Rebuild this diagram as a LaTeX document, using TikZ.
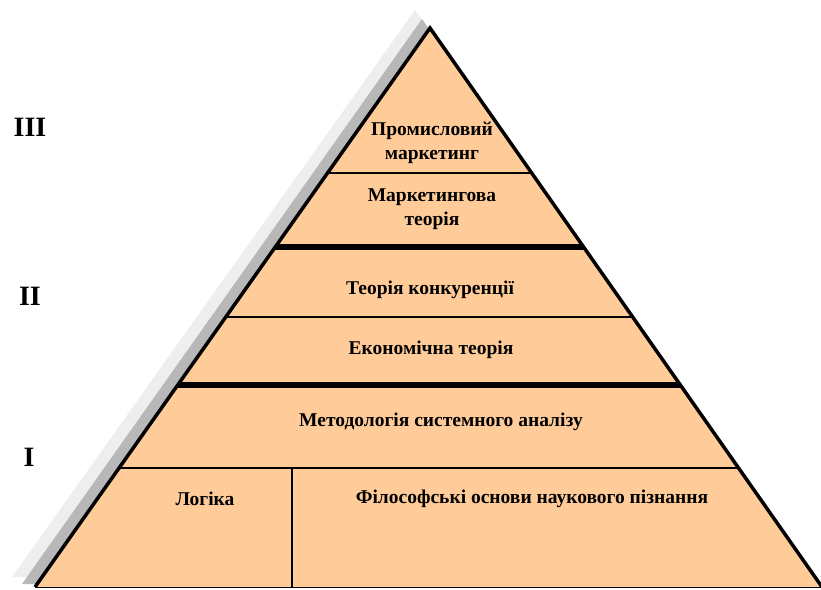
\documentclass[tikz,border=0pt]{standalone}
\usepackage{fontspec}
\setmainfont{Liberation Serif}
\usepackage{tikz}
\usetikzlibrary{calc}

\definecolor{pyrfill}{HTML}{FFCC99}
\definecolor{shadelight}{HTML}{EEEEEE}
\definecolor{shadedark}{HTML}{B8B8B8}
\definecolor{baseline}{HTML}{A8865E}

\begin{document}
\begin{tikzpicture}[x=1pt,y=-1pt,
	layer/.style={font=\bfseries\fontsize{19.5}{24}\selectfont, align=center, inner sep=0pt},
	rank/.style={font=\bfseries\fontsize{28}{30}\selectfont, inner sep=0pt}]
	\useasboundingbox (0,0) rectangle (821,589);
	\coordinate (top) at (430,28);
	\coordinate (bl) at (35,587);
	\coordinate (br) at (822,587);
	% shadow
	\fill[shadelight] (415,10) -- (12,577) -- (200,577) -- (454,66) -- cycle;
	\fill[shadedark] (422,19) -- (22,584) -- (200,584) -- (458,70) -- cycle;
	% body of the pyramid
	\fill[pyrfill] (top) -- (bl) -- (br) -- cycle;
	% borders between the layers
	\foreach \t/\w in {0.2594/1.5pt, 0.3918/6pt, 0.5170/1.5pt, 0.6386/6pt, 0.7871/1.5pt}
	{ \draw[line width=\w] ($(top)!\t!(bl)$) -- ($(top)!\t!(br)$);
	}
	\coordinate (splittop) at (292,468);
	\coordinate (splitbot) at (292,587);
	\draw[line width=1.5pt] (splittop) -- (splitbot);
	% outline
	\draw[baseline, line width=1pt] (bl) -- (br);
	\draw[line width=3.5pt, line join=miter] (bl) -- (top) -- (br);

	\node[layer] (prom) at (432,143) {Промисловий\\маркетинг};
	\node[layer] (mtheory) at (432,209) {Маркетингова\\теорія};
	\node[layer] (compet) at (430,290) {Теорія конкуренції};
	\node[layer] (econ) at (431,350) {Економічна теорія};
	\node[layer] (method) at (441,422) {Методологія системного аналізу};
	\node[layer] (logic) at (205,499) {Логіка};
	\node[layer] (philos) at (532,499) {Філософські основи наукового пізнання};

	\node[rank] (rIII) at (30,127) {III};
	\node[rank] (rII) at (30,296) {II};
	\node[rank] (rI) at (29,457) {I};
\end{tikzpicture}
\end{document}
